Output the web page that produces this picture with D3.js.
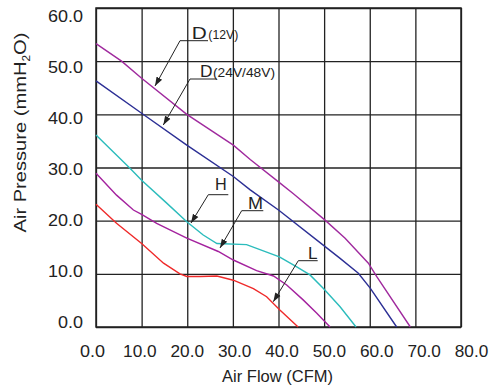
<!DOCTYPE html>
<html><head><meta charset="utf-8">
<script src="https://cdn.jsdelivr.net/npm/d3@7/dist/d3.min.js"></script>
<style>
body{margin:0;background:#fff;}
svg{display:block;font-family:"Liberation Sans",Arial,sans-serif;}
</style></head>
<body><svg id="c" width="491" height="388"></svg>
<script>
// ---- data ----
const xTicks = [0,10,20,30,40,50,60,70,80];
const yTicks = [0,10,20,30,40,50,60];
const xTickLabels = ["0.0","10.0","20.0","30.0","40.0","50.0","60.0","70.0","80.0"];
const yTickLabels = ["0.0","10.0","20.0","30.0","40.0","50.0","60.0"];
const seriesNames = ["D(12V)","D(24V/48V)","H","M","L"];
const d12Flow     = [0,5.6,10,19.9,30.1,33.8,40,43.2,50.2,54.6,59.7,61.5,68.9];
const d12Pressure = [53.3,50,46.8,40,34.2,31.5,27.3,25.1,20.1,16.7,12.0,9.5,0];
const d24Flow     = [0,10,19.9,30.1,33.8,40,49.8,53.5,57.5,60.1,65.9];
const d24Pressure = [46.3,40.2,34.2,28.3,25.8,22.0,15.4,12.9,10.1,7.3,0];
const hFlow       = [0,7.5,10,15.5,19.9,23.5,26.5,33,40.2,44,46.9,49.8,53.5,57];
const hPressure   = [36.1,29.8,27.6,23.3,19.8,17.3,15.7,15.5,13.2,11.3,9.8,7.3,3.8,0];
const mFlow       = [0,4.5,8.2,10,13.3,19.9,26.8,30.1,35.2,38.9,41.8,45.4,48.4,51.3];
const mPressure   = [28.9,24.8,22,21.2,19.5,16.7,14.2,12.6,10.6,9.6,7.9,5.1,2.6,0];
const lFlow       = [0,4.5,10,14.8,18.4,19.9,22.8,26.5,30.1,34.5,37.4,40.3,44.3];
const lPressure   = [23.1,19.5,15.7,12.0,10.0,9.5,9.5,9.6,8.8,7.2,5.7,3.2,0];

const series = [
  {name:"D12", flow:d12Flow, p:d12Pressure, color:"#a02a9e"},
  {name:"D24", flow:d24Flow, p:d24Pressure, color:"#2c2f95"},
  {name:"H",   flow:hFlow,   p:hPressure,   color:"#2bbcbc"},
  {name:"M",   flow:mFlow,   p:mPressure,   color:"#a4229e"},
  {name:"L",   flow:lFlow,   p:lPressure,   color:"#ef2a2a"}
];

// ---- layout ----
const L=96, R=461, T=8, B=327;
const svg = d3.select("#c");
const x = d3.scaleLinear().domain([0,80]).range([L,R]);
const y = d3.scaleLinear().domain([0,60]).range([B,T]);
const xLab = d3.scaleLinear().domain([0,80]).range([92,471]);
const yLab = d3.scaleLinear().domain([0,60]).range([321.7,16]);
const gridColor = "#222";

// grid
svg.append("g").attr("transform",`translate(0,${B})`)
  .call(d3.axisBottom(x).tickValues(xTicks).tickSize(-(B-T)).tickFormat(""))
  .call(g=>{g.select(".domain").remove();g.selectAll("line").attr("stroke",gridColor).attr("stroke-width",1.3);});
svg.append("g").attr("transform",`translate(${L},0)`)
  .call(d3.axisLeft(y).tickValues(yTicks).tickSize(-(R-L)).tickFormat(""))
  .call(g=>{g.select(".domain").remove();g.selectAll("line").attr("stroke",gridColor).attr("stroke-width",1.3);});
svg.append("rect").attr("x",L).attr("y",T).attr("width",R-L).attr("height",B-T)
  .attr("fill","none").attr("stroke",gridColor).attr("stroke-width",1.5);

// tick labels
svg.append("g").attr("transform","translate(0,356.5)")
  .call(d3.axisBottom(xLab).tickValues(xTicks).tickSize(0).tickPadding(0).tickFormat((d,i)=>xTickLabels[i]))
  .call(g=>{g.select(".domain").remove();
    g.selectAll("text").attr("y",0).attr("dy",0).attr("fill","#222")
     .style("font-size","16.5px").style("font-family","Liberation Sans, Arial, sans-serif")
     .attr("textLength",function(){return this.textContent.length===3?25:33.5;}).attr("lengthAdjust","spacingAndGlyphs");});
svg.append("g").attr("transform","translate(83,0)")
  .call(d3.axisLeft(yLab).tickValues(yTicks).tickSize(0).tickPadding(0).tickFormat((d,i)=>yTickLabels[i]))
  .call(g=>{g.select(".domain").remove();
    g.selectAll("text").attr("x",0).attr("dy","0.36em").attr("fill","#222")
     .style("font-size","16.5px").style("font-family","Liberation Sans, Arial, sans-serif")
     .attr("textLength",function(){return this.textContent.length===3?25:35;}).attr("lengthAdjust","spacingAndGlyphs");});

// axis titles
svg.append("text").attr("x",277.5).attr("y",381.5).attr("text-anchor","middle")
  .attr("fill","#222").style("font-size","16.5px").text("Air Flow (CFM)");
const yt = svg.append("text").attr("transform","translate(26,132.5) rotate(-90)")
  .attr("text-anchor","middle").attr("fill","#222").style("font-size","17px")
  .attr("textLength",200).attr("lengthAdjust","spacingAndGlyphs");
yt.append("tspan").text("Air Pressure (mmH");
yt.append("tspan").attr("font-size","10px").attr("dy",4).text("2");
yt.append("tspan").attr("dy",-4).text("O)");

// curves
const line = d3.line().x(d=>x(d[0])).y(d=>y(d[1]));
series.forEach(s=>{
  const pts = s.flow.map((f,i)=>[f,s.p[i]]);
  svg.append("path").datum(pts).attr("d",line).attr("fill","none")
    .attr("stroke",s.color).attr("stroke-width",1.4);
});

// annotations
const defs = svg.append("defs");
defs.append("marker").attr("id","arr").attr("viewBox","0 0 10 10").attr("refX",10).attr("refY",5)
  .attr("markerWidth",9).attr("markerHeight",9).attr("markerUnits","userSpaceOnUse").attr("orient","auto")
  .append("path").attr("d","M0,1.5 L10,5 L0,8.5 Z").attr("fill","#222");

const ann = [
  {big:"D", small:"(12V)", bx:191.7, bw:15, sx:208.3, sw:30, by:39.3, ux0:180, ux1:208, uy:40.7, tx:155, ty:86},
  {big:"D", small:"(24V/48V)", bx:200, bw:12.5, sx:213, sw:62, by:77.3, ux0:190, ux1:216.7, uy:79, tx:163.3, ty:125},
  {big:"H", small:"", bx:215, bw:11.7, by:190, ux0:208.3, ux1:228.3, uy:194.7, tx:191, ty:223},
  {big:"M", small:"", bx:248, bw:15, by:209, ux0:241.7, ux1:263.3, uy:210.7, tx:220, ty:248},
  {big:"L", small:"", bx:308, bw:9.5, by:259, ux0:298.3, ux1:317.7, uy:260.7, tx:273.3, ty:301.7}
];
ann.forEach(a=>{
  svg.append("text").attr("x",a.bx).attr("y",a.by).attr("fill","#222").style("font-size","16px")
    .attr("textLength",a.bw).attr("lengthAdjust","spacingAndGlyphs").text(a.big);
  if(a.small) svg.append("text").attr("x",a.sx).attr("y",a.by).attr("fill","#222").style("font-size","13px")
    .attr("textLength",a.sw).attr("lengthAdjust","spacingAndGlyphs").text(a.small);
  svg.append("path").attr("d",`M${a.ux1},${a.uy} L${a.ux0},${a.uy} L${a.tx},${a.ty}`)
    .attr("fill","none").attr("stroke","#222").attr("stroke-width",1).attr("marker-end","url(#arr)");
});
</script></body></html>
